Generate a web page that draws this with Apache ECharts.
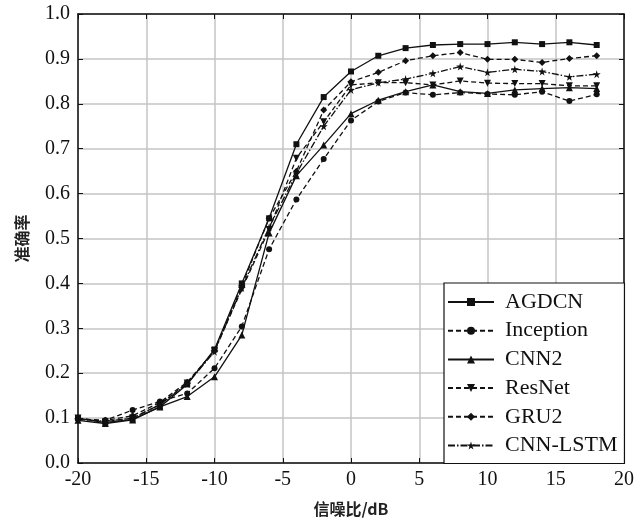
<!DOCTYPE html>
<html><head><meta charset="utf-8">
<script src="https://cdn.jsdelivr.net/npm/echarts@6/dist/echarts.min.js"></script>
<style>html,body{margin:0;padding:0;background:#fff}#c{width:637px;height:523px}</style>
</head><body><div id="c"></div>
<script>
const snr = [-20,-18,-16,-14,-12,-10,-8,-6,-4,-2,0,2,4,6,8,10,12,14,16,18];
const agdcn     = [0.100,0.090,0.097,0.125,0.175,0.253,0.400,0.545,0.710,0.815,0.872,0.907,0.924,0.931,0.933,0.933,0.937,0.933,0.937,0.931];
const inception = [0.098,0.095,0.118,0.137,0.155,0.211,0.304,0.476,0.587,0.677,0.763,0.805,0.825,0.820,0.825,0.822,0.820,0.827,0.806,0.821];
const cnn2      = [0.095,0.088,0.096,0.125,0.148,0.192,0.285,0.512,0.640,0.708,0.778,0.808,0.827,0.842,0.827,0.823,0.831,0.834,0.836,0.834];
const resnet    = [0.100,0.092,0.100,0.130,0.178,0.250,0.387,0.520,0.679,0.760,0.842,0.847,0.847,0.842,0.851,0.846,0.845,0.845,0.840,0.840];
const gru2      = [0.098,0.095,0.105,0.135,0.180,0.250,0.395,0.545,0.650,0.786,0.849,0.870,0.896,0.907,0.914,0.899,0.899,0.892,0.901,0.907];
const cnnlstm   = [0.097,0.093,0.100,0.130,0.176,0.248,0.390,0.525,0.645,0.750,0.831,0.847,0.855,0.868,0.883,0.870,0.877,0.872,0.860,0.866];
const names = ['AGDCN','Inception','CNN2','ResNet','GRU2','CNN-LSTM'];
const values = [agdcn, inception, cnn2, resnet, gru2, cnnlstm];

const star = 'path://M50,0 L61,35 L98,35 L68,57 L79,91 L50,70 L21,91 L32,57 L2,35 L39,35 Z';
const symbols = ['rect','circle','triangle','triangle','diamond',star];
const rotates = [0,0,0,180,0,0];
const sizes = [6,6,7,7,7,8];
const dashes = ['solid',[5,3],'solid',[5,3],[5,3],[7,2,1.5,2]];
const serif = 'Liberation Serif';
const cjk = 'Noto Sans CJK SC';

const series = names.map((n,i)=>({
  name:n, type:'line', data: snr.map((x,j)=>[x, values[i][j]]),
  symbol: symbols[i], symbolRotate: rotates[i], symbolSize: sizes[i],
  lineStyle:{color:'#111', width:1.3, type: dashes[i]},
  itemStyle:{color:'#111', borderWidth:0},
  z: 3
}));

const chart = echarts.init(document.getElementById('c'));
chart.setOption({
  animation:false,
  backgroundColor:'#fff',
  grid:{left:78, right:10, top:14, bottom:60},
  legend:{
    orient:'vertical', left:444, top:283,
    data:names,
    itemWidth:46, itemHeight:10, itemGap:6.7,
    padding:[8,7,7,3],
    borderColor:'#111', borderWidth:1.2, backgroundColor:'#fff',
    textStyle:{fontFamily:serif, fontSize:22, color:'#111', lineHeight:22, padding:[0,0,0,6]},
    z:10
  },
  xAxis:[{
    type:'value', min:-20, max:20, interval:5,
    name:'信噪比/dB', nameLocation:'middle', nameGap:38,
    nameTextStyle:{fontFamily:cjk, fontSize:16, fontWeight:'bold', color:'#222'},
    axisLine:{show:true, onZero:false, lineStyle:{color:'#111', width:1.5}},
    axisTick:{show:true, inside:true, length:5, lineStyle:{color:'#111'}},
    axisLabel:{fontFamily:serif, fontSize:20, color:'#111', margin:7},
    splitLine:{show:true, lineStyle:{color:'#c4c4c4', width:1.5}}
  },{
    type:'value', min:-20, max:20, interval:5, position:'top',
    axisLine:{show:true, onZero:false, lineStyle:{color:'#111', width:1.5}},
    axisTick:{show:true, inside:true, length:5, lineStyle:{color:'#111'}},
    axisLabel:{show:false}, splitLine:{show:false}
  }],
  yAxis:[{
    type:'value', min:0, max:1, interval:0.1,
    name:'准确率', nameLocation:'middle', nameGap:48, nameRotate:90,
    nameTextStyle:{fontFamily:cjk, fontSize:16, fontWeight:'bold', color:'#222'},
    axisLine:{show:true, onZero:false, lineStyle:{color:'#111', width:1.5}},
    axisTick:{show:true, inside:true, length:5, lineStyle:{color:'#111'}},
    axisLabel:{fontFamily:serif, fontSize:20, color:'#111', margin:8, formatter:v=>v.toFixed(1)},
    splitLine:{show:true, lineStyle:{color:'#c4c4c4', width:1.5}}
  },{
    type:'value', min:0, max:1, interval:0.1, position:'right',
    axisLine:{show:true, onZero:false, lineStyle:{color:'#111', width:1.5}},
    axisTick:{show:true, inside:true, length:5, lineStyle:{color:'#111'}},
    axisLabel:{show:false}, splitLine:{show:false}
  }],
  series: series
});
</script></body></html>
